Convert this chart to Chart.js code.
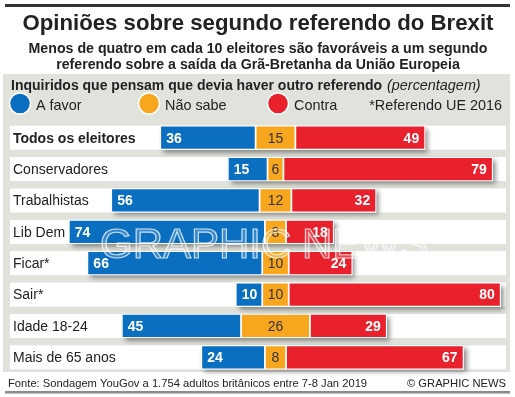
<!DOCTYPE html>
<html>
<head>
<meta charset="utf-8">
<script src="https://cdn.jsdelivr.net/npm/chart.js@4"></script>
<style>
  html, body { margin: 0; padding: 0; background: #fff; }
  canvas { display: block; }
</style>
</head>
<body>
<canvas id="brexitChart" width="515" height="397"></canvas>
<script>
var categories = ["Todos os eleitores", "Conservadores", "Trabalhistas", "Lib Dem", "Ficar*", "Sair*", "Idade 18-24", "Mais de 65 anos"];
var aFavor  = [36, 15, 56, 74, 66, 10, 45, 24];
var naoSabe = [15,  6, 12,  8, 10, 10, 26,  8];
var contra  = [49, 79, 32, 18, 24, 80, 29, 67];
var seriesNames = ["A favor", "Não sabe", "Contra"];

var title = "Opiniões sobre segundo referendo do Brexit";
var subtitle = ["Menos de quatro em cada 10 eleitores são favoráveis a um segundo",
                "referendo sobre a saída da Grã-Bretanha da União Europeia"];
var heading = "Inquiridos que pensam que devia haver outro referendo";
var headingUnit = "(percentagem)";
var note = "*Referendo UE 2016";
var source = "Fonte: Sondagem YouGov a 1.754 adultos britânicos entre 7-8 Jan 2019";
var credit = "© GRAPHIC NEWS";

var BLUE = "#0a6fc1", ORANGE = "#f8a61e", RED = "#e8212c";
var PANEL = "#e2e2dc", INK = "#222222";
var FONT = "'Liberation Sans', Arial, sans-serif";

// diverging layout: "Não sabe" is centred on zero
var favorBars = aFavor.map(function (v, i) { return [-naoSabe[i] / 2 - v, -naoSabe[i] / 2]; });
var naoBars = naoSabe.map(function (v) { return [-v / 2, v / 2]; });
var contraBars = contra.map(function (v, i) { return [naoSabe[i] / 2, naoSabe[i] / 2 + v]; });

var BAND_H = 24;

var decorPlugin = {
  id: "decor",
  beforeDraw: function (chart) {
    var ctx = chart.ctx;
    var yScale = chart.scales.y;
    var area = chart.chartArea;
    ctx.save();
    ctx.fillStyle = "#fff";
    ctx.fillRect(0, 0, chart.width, chart.height);

    // top rule
    ctx.fillStyle = "#333";
    ctx.fillRect(5, 4, 505, 3);

    // title + subtitle
    ctx.fillStyle = INK;
    ctx.textAlign = "center";
    ctx.textBaseline = "alphabetic";
    ctx.font = "bold 22.2px " + FONT;
    ctx.fillText(title, 258, 30);
    ctx.font = "bold 14.2px " + FONT;
    ctx.fillText(subtitle[0], 258, 53);
    ctx.fillText(subtitle[1], 258, 69);

    // grey panel
    ctx.fillStyle = PANEL;
    ctx.fillRect(3, 74, 507, 298);

    // panel heading
    ctx.fillStyle = INK;
    ctx.textAlign = "left";
    ctx.font = "bold 14px " + FONT;
    ctx.fillText(heading, 11, 90);
    var hw = ctx.measureText(heading).width;
    ctx.font = "italic 14.4px " + FONT;
    ctx.fillText(headingUnit, 11 + hw + 5, 90);

    // legend
    var legendX = [20, 149, 278];
    var legendCol = [BLUE, ORANGE, RED];
    for (var i = 0; i < seriesNames.length; i++) {
      ctx.beginPath();
      ctx.arc(legendX[i], 103.5, 10.5, 0, Math.PI * 2);
      ctx.fillStyle = legendCol[i];
      ctx.fill();
      ctx.lineWidth = 1.5;
      ctx.strokeStyle = "#fff";
      ctx.stroke();
      ctx.fillStyle = INK;
      ctx.font = "14.4px " + FONT;
      ctx.fillText(seriesNames[i], legendX[i] + 16, 110);
    }
    ctx.textAlign = "right";
    ctx.fillText(note, 502, 110);

    // white row bands + row labels
    ctx.textAlign = "left";
    ctx.textBaseline = "middle";
    for (var r = 0; r < categories.length; r++) {
      var y = yScale.getPixelForValue(r);
      ctx.fillStyle = "#fff";
      ctx.fillRect(area.left, y - BAND_H / 2, area.right - area.left, BAND_H);
      ctx.fillStyle = INK;
      ctx.font = (r === 0 ? "bold " : "") + "14px " + FONT;
      ctx.fillText(categories[r], 13, y + 1);
    }

    // footer
    ctx.textBaseline = "alphabetic";
    ctx.font = "11.2px " + FONT;
    ctx.fillStyle = INK;
    ctx.textAlign = "left";
    ctx.fillText(source, 8, 387);
    ctx.textAlign = "right";
    ctx.fillText(credit, 506, 387);
    ctx.fillStyle = "#8a8a8a";
    ctx.fillRect(5, 391, 505, 2.5);
    ctx.restore();
  },
  beforeDatasetsDraw: function (chart) {
    // drop shadow behind each whole bar group
    var ctx = chart.ctx;
    var xs = chart.scales.x, ys = chart.scales.y;
    ctx.save();
    ctx.shadowColor = "rgba(0,0,0,0.45)";
    ctx.shadowBlur = 5;
    ctx.shadowOffsetX = 3;
    ctx.shadowOffsetY = 3;
    ctx.fillStyle = "#fff";
    for (var i = 0; i < categories.length; i++) {
      var x1 = xs.getPixelForValue(favorBars[i][0]);
      var x2 = xs.getPixelForValue(contraBars[i][1]);
      var y = ys.getPixelForValue(i);
      ctx.fillRect(x1, y - BAND_H / 2, x2 - x1, BAND_H);
    }
    ctx.restore();
  },
  afterDatasetsDraw: function (chart) {
    var ctx = chart.ctx;
    var values = [aFavor, naoSabe, contra];
    ctx.save();
    ctx.textBaseline = "middle";
    for (var d = 0; d < 3; d++) {
      var meta = chart.getDatasetMeta(d);
      meta.data.forEach(function (bar, i) {
        var p = bar.getProps(["x", "y", "base"], true);
        var left = Math.min(p.x, p.base), right = Math.max(p.x, p.base);
        var txt = String(values[d][i]);
        if (d === 0) {
          ctx.font = "bold 14px " + FONT;
          ctx.fillStyle = "#fff";
          ctx.textAlign = "left";
          ctx.fillText(txt, left + 6, p.y + 1);
        } else if (d === 1) {
          ctx.font = "14px " + FONT;
          ctx.fillStyle = "#333";
          ctx.textAlign = "center";
          ctx.fillText(txt, (left + right) / 2, p.y + 1);
        } else {
          ctx.font = "bold 14px " + FONT;
          ctx.fillStyle = "#fff";
          ctx.textAlign = "right";
          ctx.fillText(txt, right - 6, p.y + 1);
        }
      });
    }

    // faint agency watermark
    ctx.textBaseline = "alphabetic";
    ctx.textAlign = "left";
    ctx.font = "42px " + FONT;
    ctx.lineWidth = 1.2;
    ctx.strokeStyle = "rgba(255,255,255,0.75)";
    ctx.fillStyle = "rgba(255,255,255,0.18)";
    ctx.fillText("GRAPHIC", 100, 258);
    ctx.strokeText("GRAPHIC", 100, 258);
    ctx.fillText("NEWS", 302, 258);
    ctx.strokeText("NEWS", 302, 258);
    ctx.restore();
  }
};

function barSet(label, data, color) {
  return {
    label: label,
    data: data,
    backgroundColor: color,
    borderColor: "#fff",
    borderWidth: 1.2,
    borderSkipped: false,
    grouped: false,
    barThickness: BAND_H
  };
}

new Chart(document.getElementById("brexitChart"), {
  type: "bar",
  data: {
    labels: categories,
    datasets: [
      barSet(seriesNames[0], favorBars, BLUE),
      barSet(seriesNames[1], naoBars, ORANGE),
      barSet(seriesNames[2], contraBars, RED)
    ]
  },
  options: {
    indexAxis: "y",
    responsive: false,
    animation: false,
    devicePixelRatio: 1,
    layout: { padding: { left: 10, right: 9, top: 122, bottom: 24 } },
    scales: {
      x: { type: "linear", min: -100.2, max: 87, display: false },
      y: { display: false, offset: true }
    },
    plugins: {
      legend: { display: false },
      tooltip: { enabled: false }
    }
  },
  plugins: [decorPlugin]
});
</script>
</body>
</html>
